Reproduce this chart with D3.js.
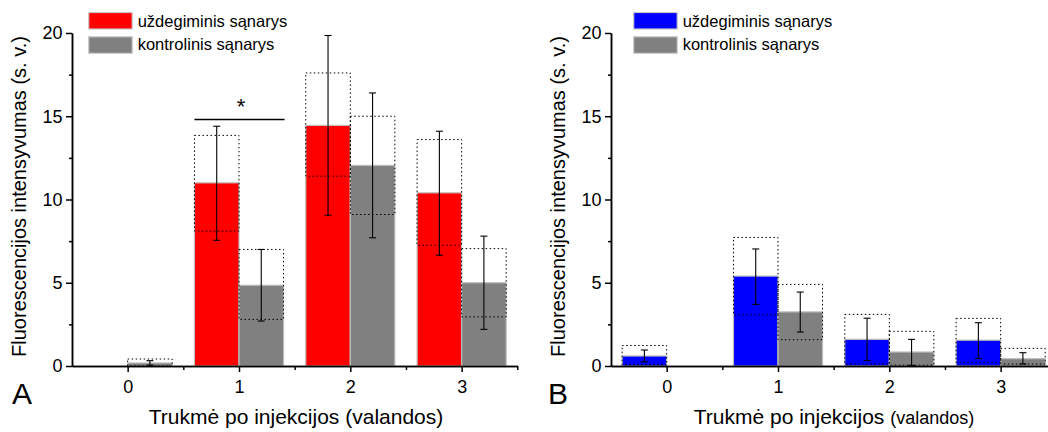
<!DOCTYPE html>
<html><head><meta charset="utf-8">
<script src="https://cdn.jsdelivr.net/npm/d3@7"></script>
<style>
html,body{margin:0;padding:0;background:#fff;}
svg{display:block;font-family:"Liberation Sans",Arial,sans-serif;}
</style></head>
<body>
<svg id="chart" width="1048" height="432"></svg>
<script>
// ---- data ----
const categories = [0, 1, 2, 3];
const legendLabels = ["uždegiminis sąnarys", "kontrolinis sąnarys"];
const yTicks = [0, 5, 10, 15, 20];
const yMinorTicks = [2.5, 7.5, 12.5, 17.5];
const xMinorTicks = [0.5, 1.5, 2.5, 3.5];

// Panel A
const inflA      = [null, 11.0, 14.45, 10.4];
const inflAErrLo = [null, 7.55, 9.05, 6.65];
const inflAErrHi = [null, 14.4, 19.85, 14.1];
const inflABoxLo = [null, 8.1, 11.4, 7.25];
const inflABoxHi = [null, 13.85, 17.6, 13.6];
const ctrlA      = [0.18, 4.85, 12.05, 5.0];
const ctrlAErrLo = [0.05, 2.7, 7.7, 2.2];
const ctrlAErrHi = [0.32, 7.0, 16.4, 7.8];
const ctrlABoxLo = [0.0, 2.8, 9.1, 2.95];
const ctrlABoxHi = [0.42, 7.0, 15.0, 7.05];

// Panel B
const inflB      = [0.6, 5.4, 1.6, 1.55];
const inflBErrLo = [0.25, 3.7, 0.33, 0.45];
const inflBErrHi = [0.96, 7.03, 2.87, 2.6];
const inflBBoxLo = [0.07, 3.07, 0.12, 0.22];
const inflBBoxHi = [1.23, 7.72, 3.1, 2.86];
const ctrlB      = [null, 3.25, 0.84, 0.44];
const ctrlBErrLo = [null, 2.04, 0.04, 0.12];
const ctrlBErrHi = [null, 4.44, 1.6, 0.8];
const ctrlBBoxLo = [null, 1.58, 0.05, 0.12];
const ctrlBBoxHi = [null, 4.9, 2.08, 1.06];

const svg = d3.select("#chart");
const barW = 0.4;

function panel(opts) {
  const g = svg.append("g");
  const x = d3.scaleLinear().domain([-0.5, 3.5]).range([opts.x0, opts.x0 + 445.3]);
  const y = d3.scaleLinear().domain([0, 20]).range([366, 33]);

  const series = [
    {vals: opts.infl, lo: opts.inflErrLo, hi: opts.inflErrHi, blo: opts.inflBoxLo, bhi: opts.inflBoxHi, color: opts.color, off: -barW},
    {vals: opts.ctrl, lo: opts.ctrlErrLo, hi: opts.ctrlErrHi, blo: opts.ctrlBoxLo, bhi: opts.ctrlBoxHi, color: "#808080", off: 0}
  ];

  series.forEach(s => {
    categories.forEach((c, i) => {
      if (s.vals[i] == null) return;
      const xl = x(c + s.off), xr = x(c + s.off + barW);
      g.append("rect")
        .attr("x", xl).attr("y", y(s.vals[i]))
        .attr("width", xr - xl).attr("height", y(0) - y(s.vals[i]))
        .attr("fill", s.color).attr("stroke", "#bdbdbd").attr("stroke-width", 1.2);
    });
  });
  // dotted boxes
  series.forEach(s => {
    categories.forEach((c, i) => {
      if (s.blo[i] == null) return;
      const xl = x(c + s.off), xr = x(c + s.off + barW);
      g.append("rect")
        .attr("x", xl).attr("y", y(s.bhi[i]))
        .attr("width", xr - xl).attr("height", y(s.blo[i]) - y(s.bhi[i]))
        .attr("fill", "none").attr("stroke", "#000").attr("stroke-width", 1)
        .attr("stroke-dasharray", "1.5,2.5");
    });
  });
  // error bars
  series.forEach(s => {
    categories.forEach((c, i) => {
      if (s.lo[i] == null) return;
      const xc = x(c + s.off + barW / 2);
      const eg = g.append("g").attr("stroke", "#000").attr("stroke-width", 1.1);
      eg.append("line").attr("x1", xc).attr("x2", xc).attr("y1", y(s.lo[i])).attr("y2", y(s.hi[i]));
      eg.append("line").attr("x1", xc - 3.5).attr("x2", xc + 3.5).attr("y1", y(s.lo[i])).attr("y2", y(s.lo[i]));
      eg.append("line").attr("x1", xc - 3.5).attr("x2", xc + 3.5).attr("y1", y(s.hi[i])).attr("y2", y(s.hi[i]));
    });
  });

  // axes
  g.append("g").attr("transform", `translate(${x(-0.5)},0)`)
    .call(d3.axisLeft(y).tickValues(yMinorTicks).tickSize(3).tickSizeOuter(0).tickFormat(""));
  g.append("g").attr("transform", `translate(${x(-0.5)},0)`)
    .call(d3.axisLeft(y).tickValues(yTicks).tickSize(6).tickSizeOuter(0).tickPadding(3.5));
  g.append("g").attr("transform", `translate(0,${y(0)})`)
    .call(d3.axisBottom(x).tickValues(xMinorTicks).tickSize(4).tickSizeOuter(0).tickFormat(""));
  g.append("g").attr("transform", `translate(0,${y(0)})`)
    .call(d3.axisBottom(x).tickValues(categories).tickSize(6).tickSizeOuter(0).tickPadding(8).tickFormat(d3.format("d")));
  g.selectAll(".domain, .tick line").attr("stroke", "#000").attr("stroke-width", 1.5);
  g.selectAll(".tick text").attr("font-size", 18).attr("fill", "#000")
    .attr("font-family", "'Liberation Sans', Arial, sans-serif");

  // y title
  g.append("text")
    .attr("transform", `translate(${opts.x0 - 46},${(y(0) + y(20)) / 2 - 3}) rotate(-90)`)
    .attr("text-anchor", "middle").attr("font-size", 20).attr("fill", "#000")
    .text("Fluorescencijos intensyvumas (s. v.)");

  // x title
  const xt = g.append("text")
    .attr("x", opts.xTitleX).attr("y", 424)
    .attr("text-anchor", "middle").attr("font-size", 21).attr("fill", "#000");
  xt.append("tspan").text("Trukmė po injekcijos ");
  xt.append("tspan").attr("font-size", opts.parenSize).text("(valandos)");

  // panel letter
  g.append("text").attr("x", opts.letterX).attr("y", 403.5)
    .attr("font-size", 30).attr("fill", "#000").text(opts.letter);

  // legend
  const lg = g.append("g");
  [opts.color, "#808080"].forEach((col, i) => {
    lg.append("rect").attr("x", opts.legX).attr("y", 12.5 + i * 24.3)
      .attr("width", 43.5).attr("height", 16.5)
      .attr("fill", col).attr("stroke", "#c8c8c8").attr("stroke-width", 1.2);
    lg.append("text").attr("x", opts.legX + 49).attr("y", 26.5 + i * 23.5)
      .attr("font-size", 16.5).attr("fill", "#000").text(legendLabels[i]);
  });
  return {x, y, g};
}

const A = panel({
  x0: 72, color: "#ff0000", letter: "A", letterX: 12, legX: 88.7, xTitleX: 296, parenSize: 21,
  infl: inflA, inflErrLo: inflAErrLo, inflErrHi: inflAErrHi, inflBoxLo: inflABoxLo, inflBoxHi: inflABoxHi,
  ctrl: ctrlA, ctrlErrLo: ctrlAErrLo, ctrlErrHi: ctrlAErrHi, ctrlBoxLo: ctrlABoxLo, ctrlBoxHi: ctrlABoxHi
});
const B = panel({
  x0: 611, color: "#0000ff", letter: "B", letterX: 548, legX: 633.7, xTitleX: 834, parenSize: 18,
  infl: inflB, inflErrLo: inflBErrLo, inflErrHi: inflBErrHi, inflBoxLo: inflBBoxLo, inflBoxHi: inflBBoxHi,
  ctrl: ctrlB, ctrlErrLo: ctrlBErrLo, ctrlErrHi: ctrlBErrHi, ctrlBoxLo: ctrlBBoxLo, ctrlBoxHi: ctrlBBoxHi
});

// significance marker (panel A, category 1)
const sigLevel = 14.8;
A.g.append("line")
  .attr("x1", A.x(1 - barW)).attr("x2", A.x(1 + barW) + 1)
  .attr("y1", A.y(sigLevel)).attr("y2", A.y(sigLevel))
  .attr("stroke", "#000").attr("stroke-width", 1.5);
A.g.append("text").attr("x", A.x(1) + 2).attr("y", A.y(sigLevel) - 6)
  .attr("text-anchor", "middle").attr("font-size", 22).attr("fill", "#000").text("*");
</script>
</body></html>
